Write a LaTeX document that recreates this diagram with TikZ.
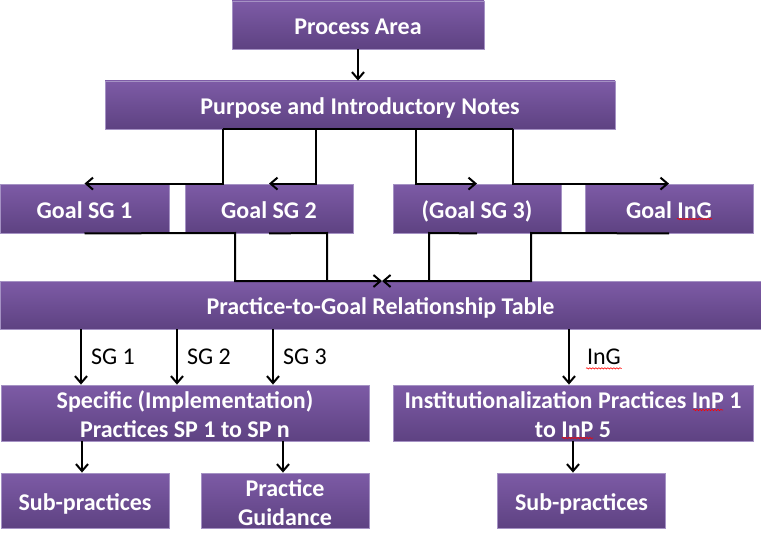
\documentclass[tikz,border=0pt]{standalone}
\usepackage{fontspec}
\setmainfont{Carlito}
\usetikzlibrary{arrows.meta,decorations.pathmorphing}
\definecolor{boxtop}{HTML}{7D5BA6}
\definecolor{boxbot}{HTML}{5E4282}
\definecolor{boxline}{HTML}{A592C4}
\begin{document}
\begin{tikzpicture}[x=1pt,y=-1pt,
		box/.style={draw=boxline,line width=0.8pt,top color=boxtop,bottom color=boxbot,text=white,
			font=\fontsize{24}{29}\selectfont\bfseries,align=center,inner sep=0pt,minimum height=48pt,
			text height=19.5pt,text depth=0pt},
		twoline/.style={text height=49.5pt,text depth=0pt},
		gbox/.style={box,minimum width=168pt,minimum height=49pt},
		arr/.style={-{Straight Barb[length=7pt,width=12pt]},line width=2pt},
		lnk/.style={line width=2pt},
		lbl/.style={font=\fontsize{24}{29}\selectfont,inner sep=0pt},
		spell/.style={red,line width=0.6pt,decorate,decoration={snake,amplitude=0.7pt,segment length=3pt}}]
			\useasboundingbox (0,0) rectangle (761,535);
			% boxes
			\node[box,minimum width=252pt] (pa) at (358,25) {Process Area};
			\node[box,minimum width=510pt] (purp) at (360,105) {Purpose and Introductory Notes};
			\node[gbox,minimum width=169pt] (sg1) at (84.5,208.5) {Goal SG 1};
			\node[gbox] (sg2) at (269,208.5) {Goal SG 2};
			\node[gbox] (sg3) at (477,208.5) {(Goal SG 3)};
			\node[gbox] (ing) at (669,208.5) {Goal InG};
			\node[box,minimum width=761pt] (tab) at (380.5,305) {Practice-to-Goal Relationship Table};
			\node[box,twoline,minimum width=368pt,minimum height=56pt] (spec) at (185,413) {Specific (Implementation)\\Practices SP 1 to SP n};
			\node[box,twoline,minimum width=360pt,minimum height=56pt] (inst) at (573,413) {Institutionalization Practices InP 1\\to InP 5};
			\node[gbox,minimum height=55pt] (sub1) at (85,500.5) {Sub-practices};
			\node[gbox,twoline,minimum height=55pt] (guid) at (285,500.5) {Practice\\Guidance};
			\node[gbox,minimum height=55pt] (sub2) at (581.5,500.5) {Sub-practices};
			% process area to notes
			\draw[arr] (pa.south) -- (pa.south |- purp.north);
			% notes to goals
			\coordinate (a1) at (223,129);
			\coordinate (a2) at (316,129);
			\coordinate (a3) at (416,129);
			\coordinate (a4) at (513,129);
			\draw[lnk] (a1) -- (a4);
			\foreach \a/\g in {a1/sg1,a2/sg2,a3/sg3,a4/ing}{
				\draw[arr] (\a) |- (\g.north);
			}
			% goals to table
			\coordinate (b1) at (235,233);
			\coordinate (b2) at (327,233);
			\coordinate (b3) at (429,233);
			\coordinate (b4) at (531,233);
			\coordinate (m1) at (382,281);
			\coordinate (m2) at (382,281);
			\draw[arr] (sg1.south) -- (b1) |- (m1);
			\draw[lnk] (sg2.south) -- (b2) -- (b2 |- tab.north);
			\draw[lnk] (sg3.south) -- (b3) -- (b3 |- tab.north);
			\draw[arr] (ing.south) -- (b4) |- (m2);
			% table to practices
			\foreach \x [count=\i] in {81,177,273,569}{
				\coordinate (c\i) at (\x,0);
			}
			\foreach \i/\t in {1/SG 1,2/SG 2,3/SG 3}{
				\draw[arr] (tab.south -| c\i) -- (spec.north -| c\i) node[lbl,midway,right=9pt] (l\i) {\t};
			}
			\draw[arr] (tab.south -| c4) -- (inst.north -| c4) node[lbl,midway,right=17pt] (l4) {InG};
			% practices to sub boxes
			\coordinate (d1) at (82,0);
			\coordinate (d2) at (283,0);
			\coordinate (d3) at (573,0);
			\draw[arr] (spec.south -| d1) -- (sub1.north -| d1);
			\draw[arr] (spec.south -| d2) -- (guid.north -| d2);
			\draw[arr] (inst.south -| d3) -- (sub2.north -| d3);
			% spell check marks
			\draw[spell] ([yshift=-2.5pt]l4.south west) -- ([yshift=-2.5pt]l4.south east);
			\draw[spell] (677,219) -- (712,219);
			\draw[spell] (693,410) -- (723,410);
			\draw[spell] (562,438) -- (593,438);
\end{tikzpicture}
\end{document}
